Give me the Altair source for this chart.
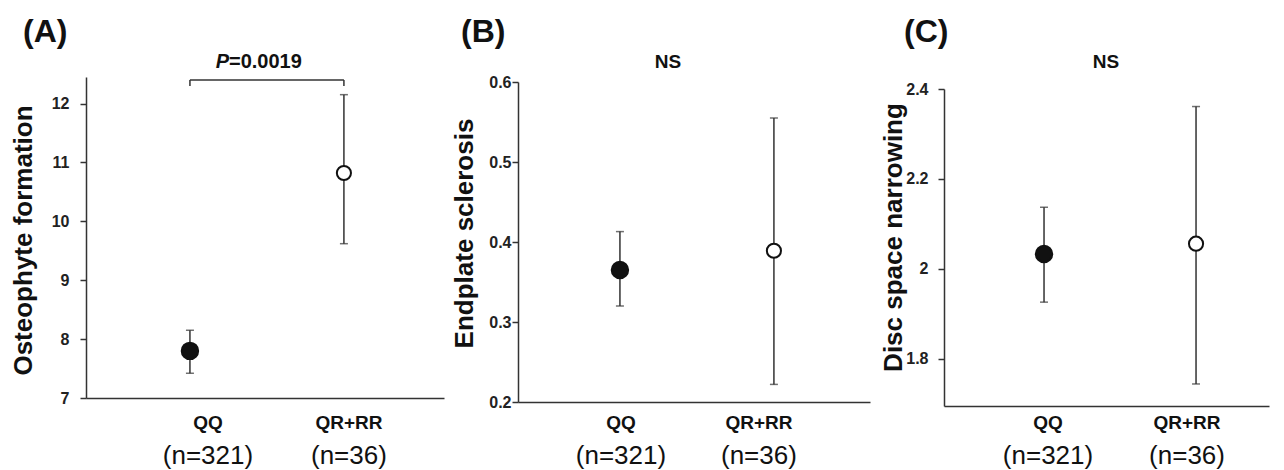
import altair as alt
import pandas as pd

# ---------------- data ----------------
groups = ["QQ", "QR+RR"]
group_n = ["(n=321)", "(n=36)"]
group_fill = ["#111111", "#ffffff"]
group_size = [270, 200]

osteo_mean = [7.80, 10.82]
osteo_low = [7.42, 9.62]
osteo_high = [8.15, 12.15]

endplate_mean = [0.365, 0.389]
endplate_low = [0.320, 0.222]
endplate_high = [0.413, 0.555]

disc_mean = [2.033, 2.056]
disc_low = [1.926, 1.744]
disc_high = [2.137, 2.361]

panel_letters = ["(A)", "(B)", "(C)"]
y_titles = ["Osteophyte formation", "Endplate sclerosis", "Disc space narrowing"]
ticks_a = [7, 8, 9, 10, 11, 12]
ticks_b = [0.2, 0.3, 0.4, 0.5, 0.6]
ticks_c = [1.8, 2.0, 2.2, 2.4]
sig_labels = ["=0.0019", "NS", "NS"]

FONT = "Liberation Sans"
INK = "#111111"
LINE = "#333333"


def panel(mean, low, high, title, ticks, ydomain, yrange, xdomain, width, height,
          letter, letter_x, title_x, title_y, label_pad, label_dx, sig, sig_x):
    df = pd.DataFrame({
        "idx": [0, 1], "group": groups, "n": group_n, "fill": group_fill,
        "size": group_size, "mean": mean, "low": low, "high": high,
    })
    xs = alt.Scale(domain=xdomain, nice=False, zero=False)
    xaxis = alt.Axis(title=None, labels=False, ticks=False, grid=False, domain=True,
                     domainColor=LINE, domainWidth=1.5)
    ys = alt.Scale(domain=ydomain, range=yrange, nice=False, zero=False)
    yaxis = alt.Axis(values=ticks, format="~g", title=title, grid=False,
                     titleX=title_x, titleY=title_y, titleAngle=270, titleAlign="center",
                     titleBaseline="middle",
                     titleFont=FONT, titleFontSize=26, titleFontWeight="bold", titleColor=INK,
                     labelFont=FONT, labelFontSize=16, labelFontWeight="bold", labelColor="#222222",
                     labelPadding=label_pad, tickSize=6, tickWidth=1.5, tickColor=LINE,
                     domainColor=LINE, domainWidth=1.5)
    base = alt.Chart(df)
    x = alt.X("idx:Q", scale=xs, axis=xaxis)

    bars = base.mark_rule(color=LINE, strokeWidth=1.5).encode(
        x=x, y=alt.Y("low:Q", scale=ys, axis=yaxis), y2="high:Q")
    caps = base.transform_fold(["low", "high"], as_=["end", "v"]).mark_tick(
        orient="horizontal", size=8, thickness=1.5, color=LINE).encode(
        x=x, y=alt.Y("v:Q", scale=ys, axis=yaxis))
    pts = base.mark_circle(stroke=INK, strokeWidth=2, opacity=1).encode(
        x=x, y=alt.Y("mean:Q", scale=ys, axis=yaxis),
        fill=alt.Fill("fill:N", scale=None), size=alt.Size("size:Q", scale=None))

    layers = [bars, caps, pts]
    for i, g in enumerate(groups):
        sub = base.transform_filter(alt.datum.idx == i)
        layers.append(sub.mark_text(font=FONT, fontSize=19, fontWeight="bold", color=INK,
                                    baseline="alphabetic", dx=label_dx[i]).encode(
            x=x, y=alt.value(352), text="group:N"))
        layers.append(sub.mark_text(font=FONT, fontSize=26, color=INK,
                                    baseline="alphabetic", dx=label_dx[i]).encode(
            x=x, y=alt.value(387), text="n:N"))

    ann = alt.Chart(pd.DataFrame({"letter": [letter], "sig": [sig]}))
    layers.append(ann.mark_text(font=FONT, fontSize=32, fontWeight="bold", color=INK,
                                align="left", baseline="alphabetic").encode(
        x=alt.value(letter_x), y=alt.value(-35), text="letter:N"))
    if sig == "NS":
        layers.append(ann.mark_text(font=FONT, fontSize=19, fontWeight="bold", color=INK,
                                    align="center", baseline="alphabetic").encode(
            x=alt.value(sig_x), y=alt.value(-9), text="sig:N"))
    else:
        layers.append(ann.mark_text(font=FONT, fontSize=20, fontWeight="bold", fontStyle="italic",
                                    color=INK, align="right", baseline="alphabetic").encode(
            x=alt.value(sig_x), y=alt.value(-9), text=alt.value("P")))
        layers.append(ann.mark_text(font=FONT, fontSize=20, fontWeight="bold", color=INK,
                                    align="left", baseline="alphabetic").encode(
            x=alt.value(sig_x), y=alt.value(-9), text="sig:N"))
        br = base.transform_aggregate(lo="min(idx)", hi="max(idx)")
        layers.append(br.mark_rule(color=LINE, strokeWidth=1.5).encode(
            x=alt.X("lo:Q", scale=xs), x2="hi:Q", y=alt.value(3)))
        for f in ["lo", "hi"]:
            layers.append(br.mark_rule(color=LINE, strokeWidth=1.5).encode(
                x=alt.X(f + ":Q", scale=xs), y=alt.value(3), y2=alt.value(9)))

    return alt.layer(*layers).properties(width=width, height=height)


pa = panel(osteo_mean, osteo_low, osteo_high, y_titles[0], ticks_a, [7, 12.45], [321, 0],
           [-0.675, 1.65], 358, 321, panel_letters[0], -63, -63, 163, 11, [18, 5],
           sig_labels[0], 143)
pb = panel(endplate_mean, endplate_low, endplate_high, y_titles[1], ticks_b, [0.2, 0.6], [325, 5],
           [-0.662, 1.624], 352, 325, panel_letters[1], -57, -54, 156, 1, [1, -15],
           sig_labels[1], 150)
pc = panel(disc_mean, disc_low, disc_high, y_titles[2], ticks_c, [1.695, 2.4], [329, 12],
           [-0.658, 1.48], 325, 329, panel_letters[2], -40, -51, 160, 10, [4, -9],
           sig_labels[2], 162)

chart = alt.hconcat(pa, pb, pc, spacing=74, bounds="flush").properties(
    padding={"left": 2, "top": 8, "right": 2, "bottom": 0}
).configure(font=FONT, background="white",
            view=alt.ViewConfig(stroke="transparent", strokeWidth=0))

chart.save("out.html", embed_options={"renderer": "svg", "actions": False})
